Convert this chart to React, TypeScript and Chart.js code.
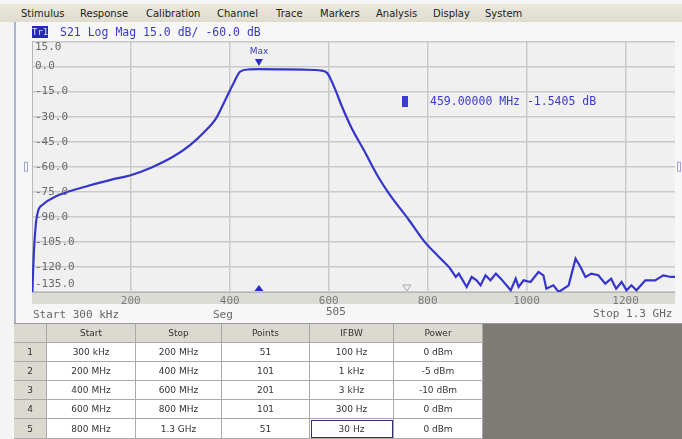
import React, { useEffect, useRef } from 'react';
import { Chart, registerables } from 'chart.js';
Chart.register(...registerables);

// ---- data ----
const FREQ_MHZ = [
  0.3, 4, 10, 23, 49, 76, 111, 163, 198, 242, 286, 321, 347, 373, 391, 409, 421, 440, 459,
  506, 548, 585, 597, 611, 627, 645, 671, 700, 724, 760, 794, 821, 843, 857, 863, 869, 879,
  889, 899, 907, 917, 927, 938, 948, 968, 978, 984, 994, 1008, 1024, 1034, 1040, 1054, 1065,
  1085, 1099, 1109, 1119, 1131, 1145, 1159, 1171, 1181, 1192, 1202, 1212, 1222, 1240, 1260,
  1276, 1292, 1300,
];
const S21_DB = [
  -142, -112, -90, -82.5, -77.7, -74.7, -71.7, -67.6, -65.2, -60.4, -53.9, -46.7, -39.6, -30.7,
  -20, -9.2, -3, -1.7, -1.54, -1.7, -1.9, -2.4, -3.9, -12.2, -24.1, -36, -50, -66, -77, -91,
  -105, -113.4, -120, -126, -124, -127, -132, -126, -128, -131, -125, -128, -124, -127, -134,
  -127, -132, -128, -129, -123, -125, -133, -131, -135, -131, -115, -120, -126, -124, -125,
  -130, -127, -133, -129, -134, -131, -134, -128, -128, -125, -126, -126,
];
const NOISE_FROM_MHZ = 843; // trace becomes the noise floor from here on
const X_TICKS = [200, 400, 600, 800, 1000, 1200];
const Y_TICKS = [15, 0, -15, -30, -45, -60, -75, -90, -105, -120, -135];
const MAX_FREQ = 459;
const MAX_DB = -1.5405;
const REF_LEVEL = -60;

const MENU = [
  ['Stimulus', 21], ['Response', 80], ['Calibration', 146], ['Channel', 217], ['Trace', 276],
  ['Markers', 320], ['Analysis', 376], ['Display', 433], ['System', 485],
] as const;

const TABLE_HEAD = ['', 'Start', 'Stop', 'Points', 'IFBW', 'Power'];
const SEG_START = ['300 kHz', '200 MHz', '400 MHz', '600 MHz', '800 MHz'];
const SEG_STOP = ['200 MHz', '400 MHz', '600 MHz', '800 MHz', '1.3 GHz'];
const SEG_POINTS = ['51', '101', '201', '101', '51'];
const SEG_IFBW = ['100 Hz', '1 kHz', '3 kHz', '300 Hz', '30 Hz'];
const SEG_POWER = ['0 dBm', '-5 dBm', '-10 dBm', '0 dBm', '0 dBm'];

const COL_X = [14, 47, 136, 222, 310, 394, 483];
const ROW_Y = [324, 343, 362, 381, 400, 419, 439];

const TRACE = '#3535cc';
const MONO = '"DejaVu Sans Mono", monospace';

const vnaPlugin = {
  id: 'vna',
  beforeDraw(chart: any) {
    const { ctx, chartArea: a } = chart;
    ctx.save();
    ctx.fillStyle = '#f0f0f0';
    ctx.fillRect(a.left, a.top, a.right - a.left, a.bottom - a.top);
    ctx.fillStyle = '#dcdcd6';
    ctx.fillRect(a.left, a.bottom, a.right - a.left, 12);
    ctx.restore();
  },
  afterDraw(chart: any) {
    const { ctx, chartArea: a, scales } = chart;
    const xs = scales.x;
    const ys = scales.y;
    ctx.save();
    ctx.font = `11px ${MONO}`;
    ctx.fillStyle = '#6a6a6a';
    ctx.textBaseline = 'middle';
    ctx.textAlign = 'left';
    Y_TICKS.forEach((v, i) => {
      let y = ys.getPixelForValue(v);
      if (i === 0) y += 6;
      if (i === Y_TICKS.length - 1) y -= 8;
      ctx.fillText(v.toFixed(1), a.left + 3, y);
    });
    const mx = xs.getPixelForValue(MAX_FREQ);
    const my = ys.getPixelForValue(MAX_DB);
    ctx.fillStyle = '#2a2ac4';
    ctx.beginPath();
    ctx.moveTo(mx, my - 3);
    ctx.lineTo(mx - 4, my - 10);
    ctx.lineTo(mx + 4, my - 10);
    ctx.closePath();
    ctx.fill();
    ctx.font = '9px "DejaVu Sans", sans-serif';
    ctx.textAlign = 'center';
    ctx.fillStyle = '#3a3ad0';
    ctx.fillText('Max', mx, my - 17);
    ctx.fillStyle = '#2a2ac4';
    ctx.beginPath();
    ctx.moveTo(mx, a.bottom - 7);
    ctx.lineTo(mx - 4.5, a.bottom - 1);
    ctx.lineTo(mx + 4.5, a.bottom - 1);
    ctx.closePath();
    ctx.fill();
    const ox = xs.getPixelForValue(758);
    ctx.strokeStyle = '#a8a8a8';
    ctx.lineWidth = 1;
    ctx.beginPath();
    ctx.moveTo(ox, a.bottom - 1);
    ctx.lineTo(ox - 4, a.bottom - 7);
    ctx.lineTo(ox + 4, a.bottom - 7);
    ctx.closePath();
    ctx.stroke();
    const ry = ys.getPixelForValue(REF_LEVEL);
    ctx.strokeStyle = '#9ea4d4';
    ctx.strokeRect(a.left - 7.5, ry - 4.5, 3, 9);
    ctx.strokeRect(a.right + 2.5, ry - 4.5, 3, 9);
    ctx.restore();
  },
};

function Table() {
  const cols = [null, SEG_START, SEG_STOP, SEG_POINTS, SEG_IFBW, SEG_POWER];
  const cells: any[] = [];
  for (let r = 0; r < 6; r++) {
    for (let c = 0; c < 6; c++) {
      const head = r === 0 || c === 0;
      let text = '';
      if (r === 0) text = TABLE_HEAD[c];
      else if (c === 0) text = String(r);
      else text = (cols[c] as string[])[r - 1];
      const sel = r === 5 && c === 4;
      cells.push(
        <div
          key={r + '-' + c}
          style={{
            position: 'absolute',
            left: COL_X[c],
            top: ROW_Y[r],
            width: COL_X[c + 1] - COL_X[c],
            height: ROW_Y[r + 1] - ROW_Y[r],
            boxSizing: 'border-box',
            borderRight: '1px solid #a9a9a9',
            borderBottom: '1px solid #a9a9a9',
            background: head ? '#dcd9d0' : '#ffffff',
            font: '9px "DejaVu Sans", sans-serif',
            color: '#333',
            display: 'flex',
            alignItems: 'center',
            justifyContent: 'center',
            outline: sel ? '1px solid #30307a' : undefined,
            outlineOffset: sel ? '-2px' : undefined,
          }}
        >
          {text}
        </div>,
      );
    }
  }
  return <>{cells}</>;
}

export default function App() {
  const ref = useRef<HTMLCanvasElement>(null);
  useEffect(() => {
    const pts = FREQ_MHZ.map((f, i) => ({ x: f, y: S21_DB[i] }));
    const smooth = pts.filter((p) => p.x <= NOISE_FROM_MHZ);
    const noise = pts.filter((p) => p.x >= NOISE_FROM_MHZ);
    const common = { borderColor: TRACE, borderWidth: 2.2, pointRadius: 0, fill: false };
    const chart = new Chart(ref.current as HTMLCanvasElement, {
      type: 'line',
      data: {
        datasets: [
          { ...common, data: smooth, cubicInterpolationMode: 'monotone' },
          { ...common, data: noise, tension: 0 },
        ],
      },
      options: {
        animation: false,
        responsive: false,
        devicePixelRatio: 1,
        layout: { padding: { left: 18, right: 7, top: 19.5, bottom: 0 } },
        plugins: { legend: { display: false }, tooltip: { enabled: false } },
        scales: {
          x: {
            type: 'linear',
            min: 0.3,
            max: 1300,
            afterBuildTicks: (s: any) => {
              s.ticks = X_TICKS.map((v) => ({ value: v }));
            },
            afterFit: (s: any) => {
              s.height = 32;
            },
            grid: { color: '#c9c9c9', lineWidth: 1.5, drawTicks: false },
            border: { display: true, color: '#b8b8b8' },
            ticks: {
              font: { family: 'DejaVu Sans Mono', size: 11 },
              color: '#7a7a7a',
              padding: 3,
              maxRotation: 0,
              autoSkip: false,
              callback: (v: any) => String(v),
            },
          },
          y: {
            type: 'linear',
            min: -135,
            max: 15,
            afterBuildTicks: (s: any) => {
              s.ticks = Y_TICKS.map((v) => ({ value: v }));
            },
            afterFit: (s: any) => {
              s.width = 0;
            },
            grid: { color: '#c9c9c9', lineWidth: 1.5, drawTicks: false },
            border: { display: true, color: '#b8b8b8' },
            ticks: { display: false },
          },
        },
      },
      plugins: [vnaPlugin],
    } as any);
    return () => chart.destroy();
  }, []);

  const monoText = (t: string, left: number, top: number, color = '#666', size = 11) => (
    <div
      style={{
        position: 'absolute',
        left,
        top,
        font: `${size}px ${MONO}`,
        color,
        whiteSpace: 'pre',
        lineHeight: '12px',
      }}
    >
      {t}
    </div>
  );

  return (
    <div
      style={{
        position: 'fixed',
        left: 0,
        top: 0,
        width: 682,
        height: 439,
        overflow: 'hidden',
        background: '#f4f4f4',
      }}
    >
      <div
        style={{
          position: 'absolute',
          left: 0,
          top: 4,
          width: 682,
          height: 18,
          background: 'linear-gradient(#ebe8dc, #dfdccf)',
        }}
      />
      {MENU.map(([t, x]) => (
        <div
          key={t}
          style={{
            position: 'absolute',
            left: x,
            top: 8,
            font: '10px "DejaVu Sans", sans-serif',
            color: '#222',
            lineHeight: '12px',
          }}
        >
          {t}
        </div>
      ))}
      <div
        style={{
          position: 'absolute',
          left: 14,
          top: 22,
          width: 668,
          height: 302,
          background: '#f7f7f7',
          borderLeft: '2px solid #aeb2cc',
          boxSizing: 'border-box',
        }}
      />
      <canvas
        ref={ref}
        width={668}
        height={302}
        style={{ position: 'absolute', left: 14, top: 22, width: 668, height: 302 }}
      />
      <div
        style={{
          position: 'absolute',
          left: 32,
          top: 26,
          width: 16,
          height: 12,
          background: '#2626c0',
          color: '#dfe0ff',
          font: `9px ${MONO}`,
          lineHeight: '12px',
          textAlign: 'center',
        }}
      >
        Tr1
      </div>
      {monoText('S21 Log Mag 15.0 dB/ -60.0 dB', 60, 26, '#3a3ac8', 11.5)}
      <div
        style={{ position: 'absolute', left: 402, top: 96, width: 6, height: 11, background: '#3a3ad8' }}
      />
      {monoText('459.00000 MHz -1.5405 dB', 430, 95, '#3a3ad0', 11.5)}
      {monoText('Start 300 kHz', 33, 309)}
      {monoText('Seg', 213, 309)}
      {monoText('505', 326, 306)}
      {monoText('Stop 1.3 GHz', 593, 308)}
      <div
        style={{ position: 'absolute', left: 14, top: 323, width: 668, height: 1, background: '#9a9a9a' }}
      />
      <Table />
      <div
        style={{ position: 'absolute', left: 483, top: 324, width: 199, height: 115, background: '#7e7b75' }}
      />
    </div>
  );
}
